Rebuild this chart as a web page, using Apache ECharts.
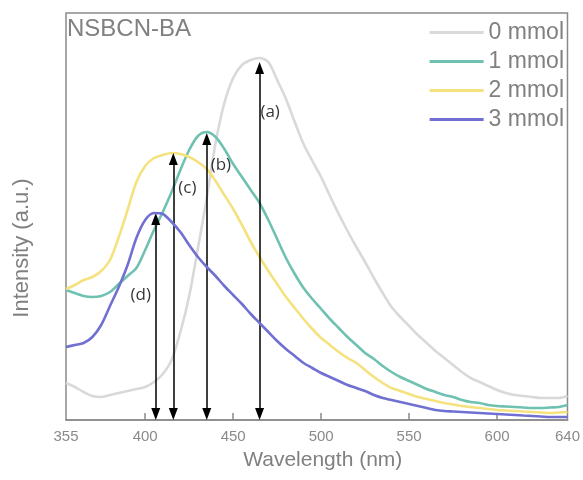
<!DOCTYPE html>
<html>
<head>
<meta charset="utf-8">
<script src="https://cdn.jsdelivr.net/npm/echarts@6/dist/echarts.min.js"></script>
<style>html,body{margin:0;padding:0;background:#fff;}#c{width:583px;height:480px;}</style>
</head>
<body>
<div id="c"></div>
<script>
var wavelength = [355,360,365,370,375,380,385,390,395,400,405,410,415,420,425,430,435,440,445,450,455,460,465,470,475,480,485,490,495,500,505,510,515,520,525,530,535,540,545,550,555,560,565,570,575,580,585,590,595,600,605,610,615,620,625,630,635,640];
var mmol0 = [37,33,28,24,23,25,27,29,31,33,38,46,60,88,124,172,222,277,317,342,355,360,362,358,340,321,298,276,259,243,224,206,189,173,158,142,127,113,103,94,85,77,69,62,55,48,42,38,34,30,27,25,24,23,22,22,22,24];
var mmol1 = [130,127,124,123,124,128,136,144,152,170,190,208,228,250,270,284,288,283,271,256,243,230,217,200,181,162,146,132,121,111,101,92,83,75,67,61,54,48,43,39,35,31,28,25,23,20,18,17,15,14,13.5,13,12.5,12,12,12.5,13,15];
var mmol2 = [131,135,140,143,149,160,183,210,238,254,262,265,267,266,263,258,251,239,225,211,195,178,163,149,136,123,112,101,91,82,75,68,62,57,50,43,37,32,29,26,23,21,19,17,15.5,14,13,12,11,10,9.5,9,8.5,8,7.5,7,7.5,8];
var mmol3 = [73,75,77,83,95,114,133,155,182,200,207,206,198,188,175,163,153,144,134,125,116,106,97,88,79,71,64,57,52,47,43,39,35,32,29,25,22,20,18,16,14,12,10,9,8.5,8,7.5,7,6.5,6,5.5,5,4.5,4,3.5,3,3,3];
var seriesNames = ['0 mmol','1 mmol','2 mmol','3 mmol'];
var seriesColors = ['#d9d9d9','#6fc1b1','#f5e27e','#7070d2'];
var xLabelValues = [355,400,450,500,550,600,640];
var xTickValues = [400,450,500,550,600];
// peak arrows
var arrowLabels = ['(a)','(b)','(c)','(d)'];
var arrowWavelengths = [465,435,416,406];
var arrowPeaks = [358,287,267,207];
var arrowLabelPos = [[471,308],[443,255],[424,232],[397.5,125]];

function pairs(ys){ return wavelength.map(function(w,i){ return [w, ys[i]]; }); }
var allData = [mmol0, mmol1, mmol2, mmol3];

var chart = echarts.init(document.getElementById('c'), null, {renderer:'canvas'});
var FONT = 'Liberation Sans, Arial, sans-serif';
var series = seriesNames.map(function(n,i){
  return {
    name: n, type: 'line', data: pairs(allData[i]), showSymbol: false, symbol: 'none',
    smooth: 0.3, lineStyle: {color: seriesColors[i], width: 2.6}, itemStyle: {color: seriesColors[i]},
    z: 2 + i
  };
});
var arrowHead = 12;
series.push({
  type: 'line', data: [], silent: true, z: 10,
  markLine: {
    silent: true, animation: false,
    symbol: ['triangle','triangle'], symbolSize: [9, arrowHead],
    lineStyle: {color: '#000', width: 1.5, type: 'solid'},
    label: {show: false},
    data: arrowWavelengths.map(function(w,i){
      return [{coord:[w, arrowHead/2]}, {coord:[w, arrowPeaks[i]-arrowHead/2]}];
    })
  }
});
series.push({
  type: 'scatter', symbolSize: 0, silent: true, z: 11,
  data: arrowLabelPos.map(function(p,i){ return {value: p, name: arrowLabels[i]}; }),
  label: {show: true, position: 'inside', formatter: function(p){ return p.name; },
    color: '#000', fontSize: 17, fontFamily: 'Open Sans, Liberation Sans, sans-serif'}
});

chart.setOption({
  animation: false,
  backgroundColor: '#fff',
  title: {text: 'NSBCN-BA', left: 67, top: 17, padding: 0,
    textStyle: {color: '#808080', fontSize: 24, fontWeight: 'normal', fontFamily: FONT}},
  legend: {
    data: seriesNames, orient: 'vertical', right: 19, top: 21, padding: 0,
    itemWidth: 54, itemHeight: 3, itemGap: 6, icon: 'rect',
    textStyle: {color: '#808080', fontSize: 23, fontFamily: FONT, lineHeight: 23}
  },
  grid: {left: 66, right: 14, top: 13, bottom: 60, show: true, borderColor: '#8a8a8a', borderWidth: 1.5, backgroundColor: 'transparent'},
  xAxis: {
    type: 'value', min: 355, max: 640,
    name: 'Wavelength (nm)', nameLocation: 'middle', nameGap: 30,
    nameTextStyle: {color: '#808080', fontSize: 21, fontFamily: FONT, padding: [0,0,0,12]},
    axisLine: {show: true, lineStyle: {color: '#8a8a8a', width: 1.5}},
    axisTick: {show: true, inside: true, length: 7, customValues: xTickValues, lineStyle: {color: '#8a8a8a', width: 1.5}},
    axisLabel: {customValues: xLabelValues, color: '#8a8a8a', fontSize: 15, margin: 9, fontFamily: FONT},
    splitLine: {show: false}
  },
  yAxis: {
    type: 'value', min: 0, max: 407,
    axisLine: {show: false}, axisTick: {show: false}, axisLabel: {show: false}, splitLine: {show: false}
  },
  graphic: [{
    type: 'text', x: 11, y: 248, rotation: Math.PI/2,
    style: {text: 'Intensity (a.u.)', fill: '#808080', fontSize: 22, fontFamily: FONT, align: 'center', verticalAlign: 'top'}
  }],
  series: series
});
</script>
</body>
</html>
